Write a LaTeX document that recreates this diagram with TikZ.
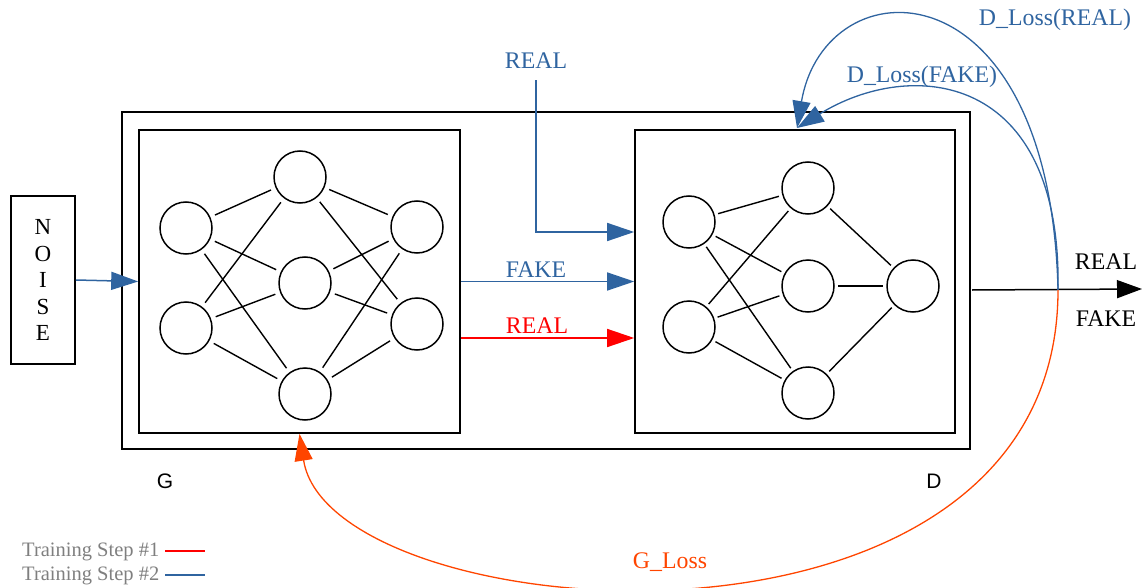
\documentclass[tikz,border=0pt]{standalone}
\usepackage{fontspec}
\setmainfont{Liberation Serif}
\newfontfamily\labelsans{Liberation Sans}
\usetikzlibrary{arrows.meta}
\definecolor{lossblue}{HTML}{2F64A0}
\definecolor{gloss}{HTML}{FF4500}
\definecolor{legendgray}{HTML}{7F7F7F}

\begin{document}
\begin{tikzpicture}[x=1pt,y=-1pt,
  box/.style={draw,line width=1.6pt,inner sep=0pt},
  neuron/.style={draw,circle,line width=1.5pt,minimum size=52pt,inner sep=0pt},
  gsyn/.style={line width=1.4pt,shorten <=5pt,shorten >=5pt},
  dsyn/.style={line width=1.4pt,shorten <=3.5pt,shorten >=3.5pt},
  bigtip/.style={-{Triangle[length=27pt,width=18pt]}},
  flow/.style={line width=1.5pt,bigtip},
  loss/.style={line width=1.3pt,bigtip},
  lbl/.style={font=\fontsize{23.8}{28}\selectfont,anchor=base,inner sep=0pt},
  sanslbl/.style={font=\labelsans\fontsize{21}{25}\selectfont,anchor=base,inner sep=0pt},
  legend/.style={font=\fontsize{20.5}{24}\selectfont,text=legendgray,anchor=base west,inner sep=0pt}]

\useasboundingbox (0,0) rectangle (1142,588);

% noise source
\node[box,minimum width=64pt,minimum height=168pt,align=center,
      font=\fontsize{23}{26.5}\selectfont] (noise) at (43,280) {N\\O\\I\\S\\E};

% GAN frame with generator and discriminator
\node[box,minimum width=848pt,minimum height=337pt] (outer) at (546,280.5) {};
\node[box,minimum width=321pt,minimum height=303pt] (gbox) at (299.5,281.5) {};
\node[box,minimum width=320pt,minimum height=303pt] (dbox) at (795,281.5) {};

% generator network
\node[neuron] (g1) at (186,228) {};
\node[neuron] (g2) at (186,328) {};
\node[neuron] (g3) at (300,177) {};
\node[neuron] (g4) at (305,283) {};
\node[neuron] (g5) at (305,394) {};
\node[neuron] (g6) at (417,227) {};
\node[neuron] (g7) at (417,324) {};
\foreach \a/\b in {g1/g3,g1/g4,g1/g5,g2/g3,g2/g4,g2/g5,g3/g6,g3/g7,g4/g6,g4/g7,g5/g6,g5/g7}
  \draw[gsyn] (\a) -- (\b);

% discriminator network
\node[neuron] (d1) at (689,222) {};
\node[neuron] (d2) at (689,327) {};
\node[neuron] (d3) at (808,188) {};
\node[neuron] (d4) at (808,286) {};
\node[neuron] (d5) at (808,393) {};
\node[neuron] (d6) at (913,286) {};
\foreach \a/\b in {d1/d3,d1/d4,d1/d5,d2/d3,d2/d4,d2/d5,d3/d6,d4/d6,d5/d6}
  \draw[dsyn] (\a) -- (\b);

% inputs
\draw[flow,lossblue] (noise.east) -- (gbox.west);
\node[lbl,text=lossblue] (realtop) at (536,69) {REAL};
\draw[flow,lossblue,shorten <=11pt] (realtop.south) |- (dbox.west |- 0,232);
\draw[flow,lossblue] (gbox.east) -- (dbox.west);
\node[lbl,text=lossblue] (fakelbl) at (536,277) {FAKE};
\draw[flow,red] (gbox.east |- 0,338) -- (dbox.west |- 0,338);
\node[lbl,text=red] (reallbl) at (537,333) {REAL};

% discriminator output
\coordinate (outA) at (972,290);
\coordinate (outB) at (1142,289);
\coordinate (split) at (1058,290);
\coordinate (dtip) at (797,128);
\draw[line width=1.5pt,-{Triangle[length=25pt,width=18pt]}] (outA) -- (outB);
\node[lbl] (outreal) at (1106,269) {REAL};
\node[lbl] (outfake) at (1106,326) {FAKE};

% losses fed back
\draw[loss,lossblue] (split) .. controls (1050,-42) and (825,-37) .. (dtip);
\draw[loss,lossblue] (split) .. controls (1062,70) and (910,58) .. (dtip);
\draw[loss,gloss] (split) .. controls (1058,690) and (330,630) .. (gbox.south);
\node[lbl,text=lossblue] (dlreal) at (1055,26) {D\_Loss(REAL)};
\node[lbl,text=lossblue] (dlfake) at (922,83) {D\_Loss(FAKE)};
\node[lbl,text=gloss] (gl) at (670,568) {G\_Loss};

% box captions
\node[sanslbl] (glbl) at (165,488) {G};
\node[sanslbl] (dlbl) at (934,488) {D};

% legend
\node[legend] (leg1) at (22,556) {Training Step \#1};
\node[legend] (leg2) at (22,580) {Training Step \#2};
\draw[red,line width=2pt] ([xshift=6pt]leg1.east) -- ++(40,0);
\draw[lossblue,line width=2pt] ([xshift=6pt]leg2.east) -- ++(40,0);
\end{tikzpicture}
\end{document}
